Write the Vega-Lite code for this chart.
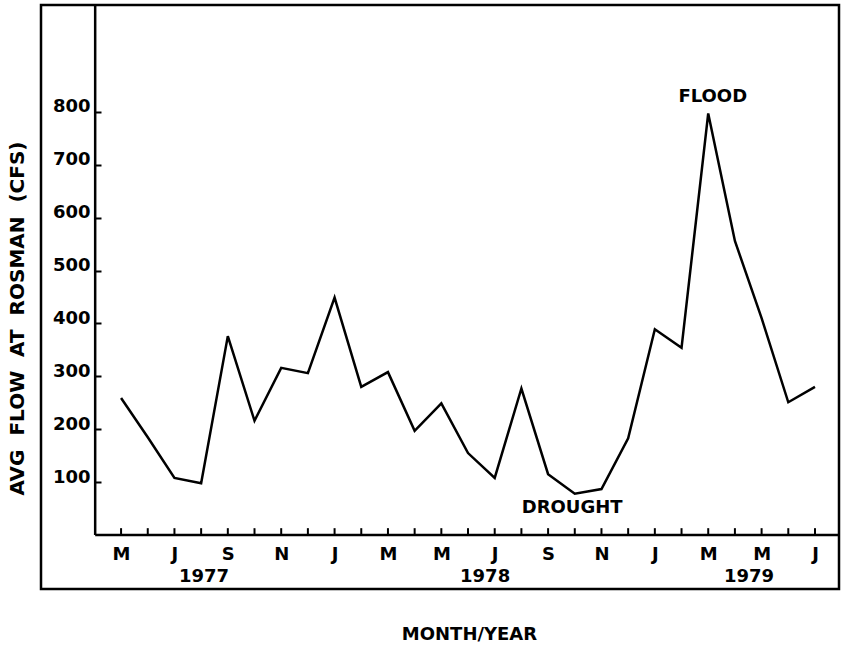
{
  "$schema": "https://vega.github.io/schema/vega-lite/v6.json",
  "width": 798,
  "height": 584,
  "autosize": {"type": "none"},
  "padding": {"left": 41, "top": 5, "right": 4, "bottom": 57},
  "background": "white",
  "config": {
    "view": {"stroke": "black", "strokeWidth": 2.5},
    "axis": {
      "labelFont": "DejaVu Sans",
      "labelFontWeight": "bold",
      "labelColor": "black",
      "titleFont": "DejaVu Sans",
      "titleFontWeight": "bold",
      "titleColor": "black",
      "tickColor": "black",
      "grid": false,
      "domain": false
    },
    "text": {"font": "DejaVu Sans", "fontWeight": "bold", "fontSize": 18, "color": "black"}
  },
  "datasets": {
    "flow": [
      {"m": 0, "month": "May 1977", "cfs": 259},
      {"m": 1, "month": "Jun 1977", "cfs": 185},
      {"m": 2, "month": "Jul 1977", "cfs": 108},
      {"m": 3, "month": "Aug 1977", "cfs": 98},
      {"m": 4, "month": "Sep 1977", "cfs": 376},
      {"m": 5, "month": "Oct 1977", "cfs": 216},
      {"m": 6, "month": "Nov 1977", "cfs": 316},
      {"m": 7, "month": "Dec 1977", "cfs": 306},
      {"m": 8, "month": "Jan 1978", "cfs": 449},
      {"m": 9, "month": "Feb 1978", "cfs": 280},
      {"m": 10, "month": "Mar 1978", "cfs": 308},
      {"m": 11, "month": "Apr 1978", "cfs": 197},
      {"m": 12, "month": "May 1978", "cfs": 249},
      {"m": 13, "month": "Jun 1978", "cfs": 155},
      {"m": 14, "month": "Jul 1978", "cfs": 108},
      {"m": 15, "month": "Aug 1978", "cfs": 277},
      {"m": 16, "month": "Sep 1978", "cfs": 115},
      {"m": 17, "month": "Oct 1978", "cfs": 78},
      {"m": 18, "month": "Nov 1978", "cfs": 87},
      {"m": 19, "month": "Dec 1978", "cfs": 183},
      {"m": 20, "month": "Jan 1979", "cfs": 389},
      {"m": 21, "month": "Feb 1979", "cfs": 354},
      {"m": 22, "month": "Mar 1979", "cfs": 797},
      {"m": 23, "month": "Apr 1979", "cfs": 556},
      {"m": 24, "month": "May 1979", "cfs": 410},
      {"m": 25, "month": "Jun 1979", "cfs": 251},
      {"m": 26, "month": "Jul 1979", "cfs": 280}
    ],
    "notes": [
      {"m": 22.17, "cfs": 829, "label": "FLOOD"},
      {"m": 16.9, "cfs": 52, "label": "DROUGHT"},
      {"m": 3.11, "cfs": -79, "label": "1977"},
      {"m": 13.64, "cfs": -79, "label": "1978"},
      {"m": 23.53, "cfs": -79, "label": "1979"}
    ],
    "axislines": [
      {"from_m": -0.97, "to_m": -0.97, "from_cfs": 0, "to_cfs": 1002},
      {"from_m": -0.97, "to_m": 26.9, "from_cfs": 0, "to_cfs": 0}
    ]
  },
  "layer": [
    {
      "data": {"name": "flow"},
      "mark": {"type": "line", "color": "black", "strokeWidth": 2.5, "strokeJoin": "miter"},
      "encoding": {
        "x": {
          "field": "m",
          "type": "quantitative",
          "scale": {"domain": [-3, 26.9], "nice": false, "zero": false},
          "axis": {
            "orient": "bottom",
            "offset": -54,
            "values": [0, 2, 4, 6, 8, 10, 12, 14, 16, 18, 20, 22, 24, 26],
            "labelExpr": "['M','','J','','S','','N','','J','','M','','M','','J','','S','','N','','J','','M','','M','','J'][datum.value]",
            "ticks": false,
            "labelPadding": 10,
            "labelBaseline": "top",
            "labelFontSize": 18,
            "labelFlush": false,
            "labelOverlap": false,
            "labelBound": false,
            "title": "MONTH/YEAR",
            "titleFontSize": 18,
            "titleX": 428,
            "titleY": 99,
            "titleAlign": "center",
            "titleBaseline": "middle"
          }
        },
        "y": {
          "field": "cfs",
          "type": "quantitative",
          "scale": {"domain": [-102, 1002], "nice": false, "zero": false},
          "axis": {
            "orient": "left",
            "offset": -54,
            "values": [100, 200, 300, 400, 500, 600, 700, 800],
            "tickSize": -6,
            "tickWidth": 2,
            "labelPadding": 11,
            "labelBaseline": "alphabetic",
            "labelFontSize": 18,
            "title": "AVG\u00a0\u00a0FLOW\u00a0\u00a0AT\u00a0\u00a0ROSMAN\u00a0\u00a0(CFS)",
            "titleFontSize": 20,
            "titleAngle": -90,
            "titleX": -78,
            "titleY": 313,
            "titleAlign": "center",
            "titleBaseline": "middle"
          }
        }
      }
    },
    {
      "data": {"name": "flow"},
      "mark": {"type": "rule", "color": "black", "strokeWidth": 2},
      "encoding": {
        "x": {"field": "m", "type": "quantitative"},
        "y": {"datum": 0, "type": "quantitative"},
        "y2": {"datum": 13}
      }
    },
    {
      "data": {"name": "axislines"},
      "mark": {"type": "rule", "color": "black", "strokeWidth": 2.5},
      "encoding": {
        "x": {"field": "from_m", "type": "quantitative"},
        "x2": {"field": "to_m"},
        "y": {"field": "from_cfs", "type": "quantitative"},
        "y2": {"field": "to_cfs"}
      }
    },
    {
      "data": {"name": "notes"},
      "mark": {"type": "text", "align": "center", "baseline": "middle"},
      "encoding": {
        "x": {"field": "m", "type": "quantitative"},
        "y": {"field": "cfs", "type": "quantitative"},
        "text": {"field": "label"}
      }
    }
  ]
}
